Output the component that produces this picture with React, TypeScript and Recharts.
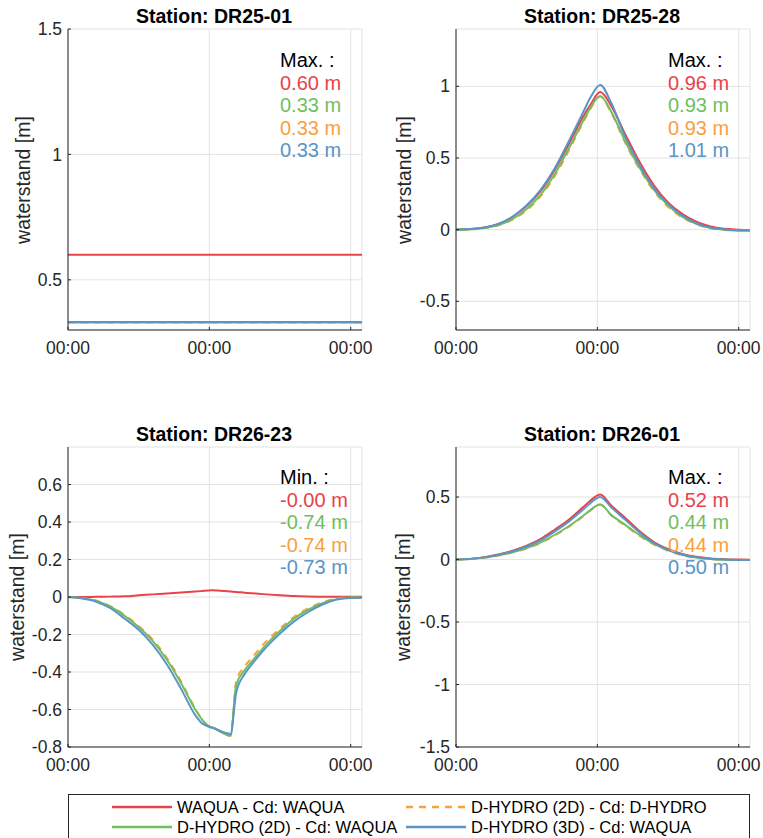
import { CartesianGrid, Line, LineChart, XAxis, YAxis } from "recharts";

const FONT = '"Liberation Sans", Arial, Helvetica, sans-serif';
const INK = "#262626";
const GRID = "#e3e3e3";

// shared time axis (days); every tick is shown as "00:00"
const X_TICKS = [0, 1, 2];
const X_MAX = 2.08;

// DR25-01
const T_DR25_01 = [0, 2.08];
const DR25_01_WAQUA = [0.6, 0.6];
const DR25_01_HYDRO_OWN = [0.33, 0.33];
const DR25_01_HYDRO_2D = [0.33, 0.33];
const DR25_01_HYDRO_3D = [0.332, 0.332];

// DR25-28
const T_DR25_28 = [0, 0.1, 0.2, 0.3, 0.4, 0.5, 0.6, 0.7, 0.8, 0.9, 0.95, 1.02, 1.1, 1.2, 1.3, 1.4, 1.5, 1.6, 1.7, 1.8, 1.9, 2.0, 2.08];
const DR25_28_WAQUA = [0, 0.004, 0.016, 0.04, 0.09, 0.165, 0.27, 0.42, 0.6, 0.79, 0.87, 0.96, 0.86, 0.66, 0.47, 0.31, 0.19, 0.11, 0.055, 0.022, 0.006, 0.0, -0.004];
const DR25_28_HYDRO_OWN = [0, 0.003, 0.011, 0.03, 0.07, 0.135, 0.235, 0.375, 0.555, 0.75, 0.84, 0.93, 0.81, 0.6, 0.42, 0.27, 0.16, 0.085, 0.038, 0.01, -0.002, -0.005, -0.006];
const DR25_28_HYDRO_2D = [0, 0.003, 0.012, 0.033, 0.075, 0.145, 0.245, 0.39, 0.57, 0.76, 0.85, 0.93, 0.82, 0.61, 0.43, 0.28, 0.17, 0.09, 0.04, 0.012, 0.0, -0.005, -0.006];
const DR25_28_HYDRO_3D = [0, 0.004, 0.015, 0.04, 0.09, 0.17, 0.28, 0.43, 0.62, 0.82, 0.92, 1.01, 0.88, 0.64, 0.45, 0.29, 0.18, 0.1, 0.045, 0.015, 0.002, -0.004, -0.006];

// DR26-23
const T_DR26_23 = [0, 0.1, 0.2, 0.3, 0.4, 0.5, 0.6, 0.7, 0.8, 0.9, 0.95, 1.0, 1.02, 1.15, 1.19, 1.25, 1.3, 1.4, 1.5, 1.6, 1.7, 1.8, 1.9, 2.0, 2.08];
const DR26_23_WAQUA = [0, 0, 0.001, 0.002, 0.004, 0.009, 0.014, 0.019, 0.024, 0.029, 0.032, 0.035, 0.036, 0.029, 0.027, 0.023, 0.02, 0.014, 0.009, 0.005, 0.003, 0.002, 0.002, 0.002, 0.002];
const DR26_23_HYDRO_OWN = [0, -0.005, -0.019, -0.049, -0.095, -0.155, -0.228, -0.325, -0.45, -0.595, -0.655, -0.69, -0.695, -0.74, -0.45, -0.37, -0.325, -0.238, -0.168, -0.105, -0.06, -0.028, -0.009, -0.002, -0.002];
const DR26_23_HYDRO_2D = [0, -0.006, -0.021, -0.052, -0.1, -0.16, -0.235, -0.335, -0.46, -0.6, -0.655, -0.69, -0.695, -0.74, -0.47, -0.39, -0.345, -0.255, -0.18, -0.115, -0.068, -0.033, -0.012, -0.003, -0.003];
const DR26_23_HYDRO_3D = [0, -0.008, -0.025, -0.06, -0.115, -0.175, -0.255, -0.36, -0.49, -0.63, -0.675, -0.693, -0.697, -0.73, -0.51, -0.41, -0.36, -0.27, -0.195, -0.13, -0.08, -0.04, -0.014, -0.005, -0.004];

// DR26-01
const T_DR26_01 = [0, 0.1, 0.2, 0.3, 0.4, 0.5, 0.6, 0.7, 0.8, 0.9, 0.95, 1.02, 1.1, 1.2, 1.3, 1.4, 1.5, 1.6, 1.7, 1.8, 1.9, 2.0, 2.08];
const DR26_01_WAQUA = [0, 0.005, 0.018, 0.04, 0.07, 0.11, 0.165, 0.24, 0.32, 0.42, 0.47, 0.52, 0.43, 0.33, 0.225, 0.14, 0.085, 0.045, 0.022, 0.009, 0.003, 0.0, -0.002];
const DR26_01_HYDRO_OWN = [0, 0.004, 0.014, 0.031, 0.055, 0.088, 0.133, 0.192, 0.262, 0.345, 0.39, 0.44, 0.35, 0.268, 0.188, 0.12, 0.07, 0.034, 0.013, 0.003, -0.002, -0.004, -0.005];
const DR26_01_HYDRO_2D = [0, 0.004, 0.015, 0.033, 0.058, 0.092, 0.138, 0.198, 0.268, 0.35, 0.395, 0.44, 0.355, 0.275, 0.195, 0.125, 0.075, 0.038, 0.016, 0.004, -0.002, -0.004, -0.005];
const DR26_01_HYDRO_3D = [0, 0.005, 0.017, 0.038, 0.066, 0.104, 0.155, 0.225, 0.305, 0.4, 0.45, 0.5, 0.415, 0.315, 0.215, 0.132, 0.078, 0.04, 0.018, 0.006, 0.0, -0.004, -0.005];

const SERIES = [
  { key: "waqua", name: "WAQUA - Cd: WAQUA", color: "#e8424a", dash: undefined },
  { key: "hydroOwn", name: "D-HYDRO (2D) - Cd: D-HYDRO", color: "#f9a03f", dash: "7 6" },
  { key: "hydro2d", name: "D-HYDRO (2D) - Cd: WAQUA", color: "#6fbf60", dash: undefined },
  { key: "hydro3d", name: "D-HYDRO (3D) - Cd: WAQUA", color: "#5b94c6", dash: undefined },
];

const PANELS = [
  {
    title: "Station: DR25-01", stat: "Max. :", statValues: ["0.60 m", "0.33 m", "0.33 m", "0.33 m"],
    time: T_DR25_01, values: [DR25_01_WAQUA, DR25_01_HYDRO_OWN, DR25_01_HYDRO_2D, DR25_01_HYDRO_3D],
    yDomain: [0.3, 1.5], yTicks: [0.5, 1, 1.5],
    left: 0, top: 0, width: 380, height: 380, margin: { top: 29, right: 18, bottom: 10, left: 0 }, yWidth: 68,
    titleX: 214, titleY: 23, labelX: 30, labelY: 180, statX: 280, statY: 67,
  },
  {
    title: "Station: DR25-28", stat: "Max. :", statValues: ["0.96 m", "0.93 m", "0.93 m", "1.01 m"],
    time: T_DR25_28, values: [DR25_28_WAQUA, DR25_28_HYDRO_OWN, DR25_28_HYDRO_2D, DR25_28_HYDRO_3D],
    yDomain: [-0.7, 1.4], yTicks: [-0.5, 0, 0.5, 1],
    left: 380, top: 0, width: 383, height: 380, margin: { top: 29, right: 13, bottom: 10, left: 0 }, yWidth: 76,
    titleX: 602, titleY: 23, labelX: 411, labelY: 180, statX: 668, statY: 67,
  },
  {
    title: "Station: DR26-23", stat: "Min. :", statValues: ["-0.00 m", "-0.74 m", "-0.74 m", "-0.73 m"],
    time: T_DR26_23, values: [DR26_23_WAQUA, DR26_23_HYDRO_OWN, DR26_23_HYDRO_2D, DR26_23_HYDRO_3D],
    yDomain: [-0.8, 0.8], yTicks: [-0.8, -0.6, -0.4, -0.2, 0, 0.2, 0.4, 0.6],
    left: 0, top: 400, width: 380, height: 400, margin: { top: 47, right: 18, bottom: 13, left: 0 }, yWidth: 68,
    titleX: 214, titleY: 441, labelX: 23.5, labelY: 597, statX: 280, statY: 484,
  },
  {
    title: "Station: DR26-01", stat: "Max. :", statValues: ["0.52 m", "0.44 m", "0.44 m", "0.50 m"],
    time: T_DR26_01, values: [DR26_01_WAQUA, DR26_01_HYDRO_OWN, DR26_01_HYDRO_2D, DR26_01_HYDRO_3D],
    yDomain: [-1.5, 0.9], yTicks: [-1.5, -1, -0.5, 0, 0.5],
    left: 380, top: 400, width: 383, height: 400, margin: { top: 47, right: 13, bottom: 13, left: 0 }, yWidth: 76,
    titleX: 602, titleY: 441, labelX: 410, labelY: 597, statX: 668, statY: 484,
  },
];

// order of the coloured lines in the Max./Min. block: red, green, orange, blue
const STAT_ORDER = [0, 2, 1, 3];

function XTick({ x, y }: { x: number; y: number }) {
  return (
    <g>
      <line x1={x} x2={x} y1={y - 12} y2={y - 15} stroke={INK} />
      <text x={x} y={y} dy="0.71em" textAnchor="middle" fill={INK} fontSize={17.5} fontFamily={FONT}>
        00:00
      </text>
    </g>
  );
}

function YTick({ x, y, payload }: { x: number; y: number; payload: { value: number } }) {
  return (
    <g>
      <line x1={x + 6} x2={x + 9} y1={y} y2={y} stroke={INK} />
      <text x={x} y={y} dy="0.35em" textAnchor="end" fill={INK} fontSize={17.5} fontFamily={FONT}>
        {String(payload.value)}
      </text>
    </g>
  );
}

function StationChart({ p }: { p: (typeof PANELS)[number] }) {
  const rows = p.time.map((t, i) => ({
    t,
    waqua: p.values[0][i],
    hydroOwn: p.values[1][i],
    hydro2d: p.values[2][i],
    hydro3d: p.values[3][i],
  }));
  return (
    <div style={{ position: "absolute", left: p.left, top: p.top }}>
      <LineChart width={p.width} height={p.height} data={rows} margin={p.margin}>
        <CartesianGrid stroke={GRID} />
        <XAxis
          type="number"
          dataKey="t"
          domain={[0, X_MAX]}
          ticks={X_TICKS}
          interval={0}
          allowDataOverflow
          height={40}
          tickSize={0}
          tickMargin={12}
          tickLine={false}
          stroke={INK}
          tick={(props: any) => <XTick x={props.x} y={props.y} />}
        />
        <YAxis
          type="number"
          domain={p.yDomain}
          ticks={p.yTicks}
          interval={0}
          allowDataOverflow
          width={p.yWidth}
          tickSize={0}
          tickMargin={6}
          tickLine={false}
          stroke={INK}
          tick={(props: any) => <YTick x={props.x} y={props.y} payload={props.payload} />}
        />
        {SERIES.map((s) => (
          <Line
            key={s.key}
            type="monotone"
            dataKey={s.key}
            stroke={s.color}
            strokeWidth={2}
            strokeDasharray={s.dash}
            dot={false}
            activeDot={false}
            isAnimationActive={false}
          />
        ))}
      </LineChart>
    </div>
  );
}

function LegendItem({ s, left, top }: { s: (typeof SERIES)[number]; left: number; top: number }) {
  return (
    <div style={{ position: "absolute", left, top, display: "flex", alignItems: "center", gap: 5, height: 20 }}>
      <svg width="60" height="4" aria-hidden>
        <line x1="0" x2="60" y1="2" y2="2" stroke={s.color} strokeWidth={2.5} strokeDasharray={s.dash} />
      </svg>
      <span style={{ fontSize: 16.5, lineHeight: "20px", color: "#000", whiteSpace: "nowrap" }}>{s.name}</span>
    </div>
  );
}

export default function App() {
  return (
    <div
      style={{
        position: "absolute",
        left: 0,
        top: 0,
        width: 763,
        height: 838,
        overflow: "hidden",
        background: "#fff",
        fontFamily: FONT,
      }}
    >
      {PANELS.map((p) => (
        <StationChart key={p.title} p={p} />
      ))}
      <svg width={763} height={838} style={{ position: "absolute", left: 0, top: 0, pointerEvents: "none" }}>
        {PANELS.map((p) => (
          <g key={p.title} fontFamily={FONT}>
            <text x={p.titleX} y={p.titleY} textAnchor="middle" fontWeight="bold" fontSize={19.5} fill="#000">
              {p.title}
            </text>
            <text
              x={p.labelX}
              y={p.labelY}
              textAnchor="middle"
              fontSize={19.5}
              fill={INK}
              transform={`rotate(-90 ${p.labelX} ${p.labelY})`}
            >
              waterstand [m]
            </text>
            <text x={p.statX} y={p.statY} fontSize={20} fill="#000">
              {p.stat}
            </text>
            {STAT_ORDER.map((si, i) => (
              <text key={si} x={p.statX} y={p.statY + 22.5 * (i + 1)} fontSize={20} fill={SERIES[si].color}>
                {p.statValues[i]}
              </text>
            ))}
          </g>
        ))}
      </svg>
      <div
        style={{
          position: "absolute",
          left: 68,
          top: 794,
          width: 680,
          height: 60,
          border: `1px solid ${INK}`,
          background: "#fff",
        }}
      >
        <LegendItem s={SERIES[0]} left={43} top={2} />
        <LegendItem s={SERIES[1]} left={337} top={2} />
        <LegendItem s={SERIES[2]} left={43} top={22} />
        <LegendItem s={SERIES[3]} left={337} top={22} />
      </div>
    </div>
  );
}
